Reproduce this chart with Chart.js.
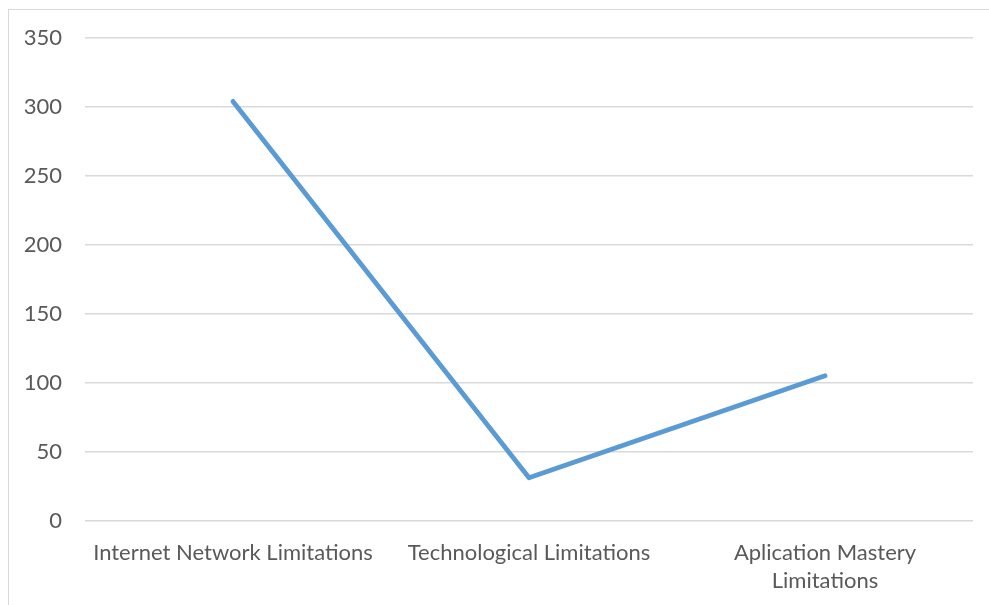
<!DOCTYPE html>
<html>
<head>
<meta charset="utf-8">
<script src="https://cdn.jsdelivr.net/npm/chart.js@4/dist/chart.umd.min.js"></script>
<style>
  html, body { margin: 0; padding: 0; background: #fff; overflow: hidden; }
  #frame {
    position: absolute; left: 8px; top: 9px;
    width: 1200px; height: 800px;
    border: 1px solid #d9d9d9;
  }
  #wrap { position: absolute; left: 0; top: 0; width: 989px; height: 605px; }
</style>
</head>
<body>
<div id="frame"></div>
<div id="wrap"><canvas id="line_canvas" width="989" height="605"></canvas></div>
<script>
// categories and values
var categories = [
    "Internet Network Limitations",
    "Technological Limitations",
    ["Aplication Mastery", "Limitations"]
];
var limitationCounts = [304, 31, 105];
var yTicks = [0, 50, 100, 150, 200, 250, 300, 350];

var textColor = "#595959";
var gridColor = "#d9d9d9";
var fontFamily = "Lato, 'Liberation Sans', sans-serif";

var context = document.getElementById("line_canvas").getContext("2d");

var chart = new Chart(context, {
    type: 'line',
    data: {
        labels: categories,
        datasets: [{
            label: "Limitations",
            data: limitationCounts,
            borderColor: "#5b9bd5",
            backgroundColor: "#5b9bd5",
            borderWidth: 4.8,
            borderCapStyle: 'round',
            borderJoinStyle: 'round',
            pointRadius: 0,
            tension: 0,
            fill: false
        }]
    },
    options: {
        responsive: false,
        animation: false,
        layout: { padding: { left: 0, right: 16, top: 38, bottom: 0 } },
        plugins: {
            legend: { display: false },
            tooltip: { enabled: false }
        },
        scales: {
            x: {
                offset: true,
                grid: { display: false, drawTicks: false },
                border: { display: false },
                ticks: {
                    color: textColor,
                    font: { family: fontFamily, size: 22, lineHeight: 1.3 },
                    maxRotation: 0,
                    autoSkip: false,
                    padding: 18
                },
                // fixed band below the plot for the category names
                afterFit: function(axis) { axis.height = 84.5; }
            },
            y: {
                min: 0,
                max: 350,
                afterBuildTicks: function(axis) {
                    axis.ticks = yTicks.map(function(v) { return { value: v }; });
                },
                grid: { color: gridColor, lineWidth: 1.5, drawTicks: false },
                border: { display: false },
                ticks: {
                    color: textColor,
                    font: { family: fontFamily, size: 22 },
                    padding: 23
                },
                afterFit: function(axis) { axis.width = 85; }
            }
        }
    }
});
</script>
</body>
</html>
